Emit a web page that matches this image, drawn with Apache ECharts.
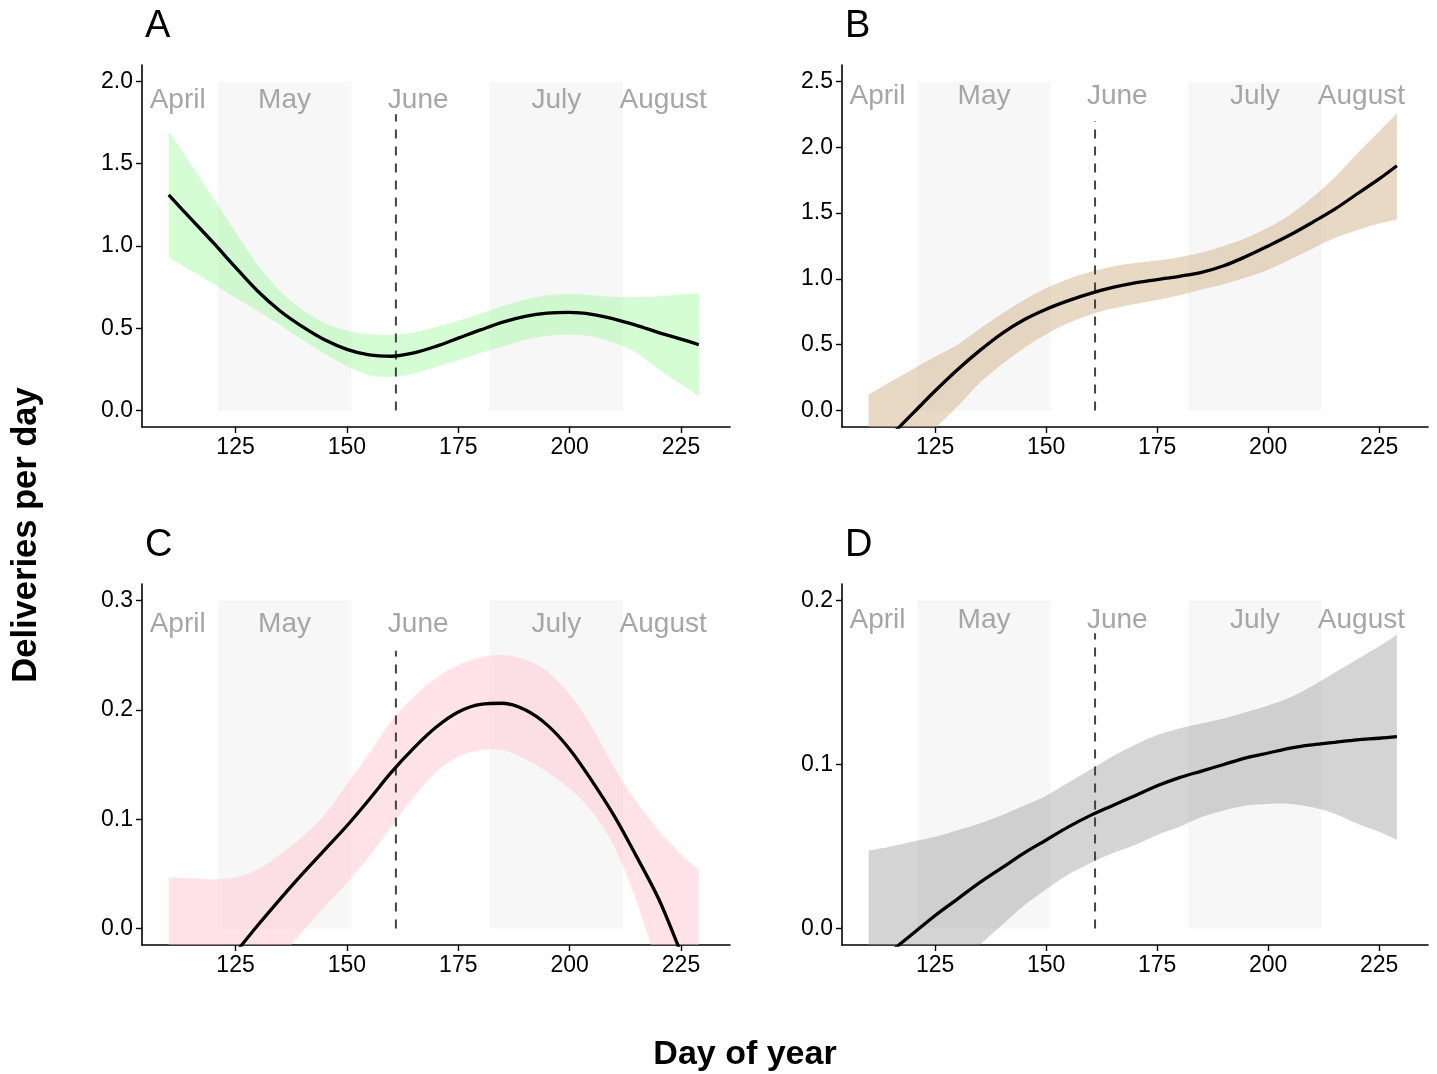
<!DOCTYPE html>
<html>
<head>
<meta charset="utf-8">
<script src="https://cdn.jsdelivr.net/npm/echarts@6/dist/echarts.min.js"></script>
<style>
html,body{margin:0;padding:0;background:#fff;}
#chart{width:1437px;height:1074px;}
</style>
</head>
<body>
<div id="chart"></div>
<script>
// ---- data ----
const days = [110,115,120,125,130,135,140,145,150,155,160,165,170,175,180,185,190,195,200,205,210,215,220,225,229];

const fitA = [1.31,1.165,1.02,0.87,0.725,0.605,0.51,0.43,0.372,0.338,0.33,0.35,0.39,0.44,0.49,0.537,0.572,0.592,0.597,0.585,0.556,0.518,0.474,0.434,0.40];
const upA  = [1.70,1.495,1.29,1.085,0.885,0.725,0.612,0.532,0.485,0.465,0.46,0.475,0.508,0.545,0.59,0.635,0.675,0.70,0.71,0.70,0.69,0.69,0.695,0.705,0.715];
const loA  = [0.93,0.85,0.77,0.685,0.605,0.52,0.43,0.345,0.27,0.215,0.205,0.225,0.265,0.305,0.35,0.39,0.43,0.455,0.462,0.45,0.41,0.35,0.25,0.16,0.087];

const fitB = [-0.36,-0.19,-0.02,0.15,0.31,0.455,0.585,0.69,0.77,0.835,0.89,0.935,0.97,0.995,1.02,1.05,1.10,1.17,1.25,1.335,1.43,1.53,1.645,1.76,1.86];
const upB  = [0.12,0.22,0.315,0.41,0.50,0.62,0.735,0.84,0.93,1.0,1.055,1.095,1.12,1.14,1.165,1.20,1.25,1.31,1.39,1.49,1.62,1.77,1.95,2.12,2.26];
const loB  = [-0.85,-0.6,-0.32,-0.135,0.03,0.21,0.35,0.476,0.58,0.665,0.73,0.775,0.81,0.84,0.875,0.92,0.96,1.01,1.07,1.15,1.23,1.31,1.37,1.42,1.45];

const fitC = [-0.097,-0.072,-0.047,-0.022,0.003,0.027,0.05,0.072,0.094,0.118,0.143,0.165,0.184,0.198,0.205,0.206,0.200,0.186,0.164,0.135,0.103,0.066,0.027,-0.022,-0.06];
const upC  = [0.047,0.046,0.045,0.047,0.054,0.068,0.084,0.104,0.132,0.16,0.19,0.212,0.229,0.241,0.248,0.25,0.246,0.235,0.214,0.184,0.147,0.116,0.09,0.068,0.054];
const loC  = [-0.25,-0.2,-0.15,-0.1,-0.06,-0.028,-0.003,0.02,0.042,0.066,0.093,0.12,0.143,0.157,0.163,0.163,0.155,0.143,0.128,0.107,0.075,0.025,-0.04,-0.12,-0.19];

const fitD = [-0.025,-0.014,-0.003,0.008,0.018,0.028,0.037,0.046,0.054,0.062,0.069,0.075,0.081,0.087,0.092,0.096,0.1,0.104,0.107,0.11,0.112,0.1135,0.115,0.116,0.117];
const upD  = [0.0475,0.050,0.053,0.056,0.06,0.064,0.069,0.075,0.081,0.089,0.097,0.105,0.112,0.118,0.122,0.125,0.128,0.132,0.136,0.141,0.148,0.156,0.164,0.172,0.179];
const loD  = [-0.09,-0.07,-0.052,-0.036,-0.022,-0.01,0.002,0.014,0.024,0.033,0.04,0.046,0.051,0.057,0.062,0.068,0.072,0.075,0.076,0.076,0.074,0.07,0.064,0.059,0.054];

const panelLetters = ['A','B','C','D'];
const yTicks = [[0,0.5,1.0,1.5,2.0],[0,0.5,1.0,1.5,2.0,2.5],[0,0.1,0.2,0.3],[0,0.1,0.2]];
const yLimits = [[0,2.0],[0,2.5],[0,0.3],[0,0.2]];
const xTicks = [125,150,175,200,225];
const xLimits = [110,230];
const shadeStart = [121,182];
const shadeEnd = [151,212];
const monthNames = ['April','May','June','July','August'];
const monthDays = [112,136,166,197,221];
const monthLabelY = [1.885,2.385,0.278,0.188];
const vlineDay = 161;
const vlineTop = [1.8,2.2,0.254,0.18];

const fits = [fitA,fitB,fitC,fitD];
const ups = [upA,upB,upC,upD];
const los = [loA,loB,loC,loD];
const ribbonColors = ['rgba(152,251,152,0.42)','rgba(210,180,140,0.5)','rgba(255,192,203,0.45)','rgba(153,153,153,0.42)'];

// ---- layout ----
const grids = [
  {left:142, top:65, width:588, height:362},
  {left:842, top:65, width:586, height:362},
  {left:142, top:584, width:588, height:361},
  {left:842, top:584, width:586, height:361}
];
const FONT = "'Liberation Sans', Arial, sans-serif";

// Catmull-Rom spline path through pixel points (rendering helper only)
function splineSeg(pts, startCmd){
  let d = startCmd + pts[0][0].toFixed(2)+' '+pts[0][1].toFixed(2);
  const t = 1/6;
  for (let i=0;i<pts.length-1;i++){
    const p0 = pts[Math.max(i-1,0)], p1 = pts[i], p2 = pts[i+1], p3 = pts[Math.min(i+2,pts.length-1)];
    const c1 = [p1[0]+(p2[0]-p0[0])*t, p1[1]+(p2[1]-p0[1])*t];
    const c2 = [p2[0]-(p3[0]-p1[0])*t, p2[1]-(p3[1]-p1[1])*t];
    d += ' C'+c1[0].toFixed(2)+' '+c1[1].toFixed(2)+' '+c2[0].toFixed(2)+' '+c2[1].toFixed(2)+' '+p2[0].toFixed(2)+' '+p2[1].toFixed(2);
  }
  return d;
}

const xSpan = xLimits[1]-xLimits[0];
const xAxes = [], yAxes = [], series = [], titles = [];
for (let p=0;p<4;p++){
  const ylo = yLimits[p][0], yhi = yLimits[p][1], ys = yhi-ylo;
  xAxes.push({
    gridIndex:p, type:'value',
    min: xLimits[0]-0.05*xSpan, max: xLimits[1]+0.05*xSpan,
    splitLine:{show:false},
    axisLine:{show:true, onZero:false, lineStyle:{color:'#000', width:1.6}},
    axisTick:{show:true, length:6, customValues:xTicks, lineStyle:{color:'#000', width:1.4}},
    axisLabel:{show:true, customValues:xTicks, margin:9, color:'#000', fontSize:23, fontFamily:FONT}
  });
  yAxes.push({
    gridIndex:p, type:'value',
    min: ylo-0.05*ys, max: yhi+0.05*ys,
    splitLine:{show:false},
    axisLine:{show:true, onZero:false, lineStyle:{color:'#000', width:1.6}},
    axisTick:{show:true, length:6, customValues:yTicks[p], lineStyle:{color:'#000', width:1.4}},
    axisLabel:{show:true, customValues:yTicks[p], margin:9, color:'#000', fontSize:23, fontFamily:FONT,
      formatter:(v)=>Number(v).toFixed(1)}
  });
  // shaded month bands
  series.push({
    type:'custom', xAxisIndex:p, yAxisIndex:p, z:1, clip:true, silent:true,
    data: shadeStart.map((s,i)=>[s, shadeEnd[i]]),
    renderItem:(params, api)=>{
      const a = api.coord([api.value(0), yhi]);
      const b = api.coord([api.value(1), 0]);
      return {type:'rect', shape:{x:a[0], y:a[1], width:b[0]-a[0], height:b[1]-a[1]}, style:{fill:'#f7f7f7'}};
    }
  });
  // month labels
  series.push({
    type:'custom', xAxisIndex:p, yAxisIndex:p, z:2, silent:true,
    data: monthDays.map((d,i)=>[d, monthLabelY[p], i]),
    renderItem:(params, api)=>{
      const c = api.coord([api.value(0), api.value(1)]);
      return {type:'text', x:c[0], y:c[1], style:{text:monthNames[api.value(2)], fill:'#a6a6a6',
        font:'28px '+FONT, textAlign:'center', textVerticalAlign:'middle'}};
    }
  });
  // confidence ribbon
  const up = ups[p], lo = los[p];
  series.push({
    type:'custom', xAxisIndex:p, yAxisIndex:p, z:3, clip:true, silent:true,
    data:[[0]],
    renderItem:(params, api)=>{
      const top = days.map((d,i)=>api.coord([d, up[i]]));
      const bot = days.map((d,i)=>api.coord([d, lo[i]])).reverse();
      let path = splineSeg(top,'M');
      path += ' ' + splineSeg(bot,'L') + ' Z';
      const cs = params.coordSys;
      return {type:'group',
        clipPath:{type:'rect', shape:{x:cs.x, y:cs.y, width:cs.width, height:cs.height}},
        children:[{type:'path', shape:{pathData:path}, style:{fill:ribbonColors[p], stroke:null}}]};
    }
  });
  // dashed vertical line
  series.push({
    type:'line', xAxisIndex:p, yAxisIndex:p, z:4, showSymbol:false, symbol:'none', silent:true,
    lineStyle:{color:'#444', width:2, type:[9,8]},
    data:[[vlineDay,0],[vlineDay,vlineTop[p]]]
  });
  // fitted line
  series.push({
    type:'line', xAxisIndex:p, yAxisIndex:p, z:5, smooth:0.35, showSymbol:false, symbol:'none', silent:true,
    lineStyle:{color:'#000', width:3.3},
    data: days.map((d,i)=>[d, fits[p][i]])
  });
  titles.push({text:panelLetters[p], left:grids[p].left-2, top:grids[p].top-62,
    textStyle:{fontSize:38, fontWeight:'normal', color:'#000', fontFamily:FONT}});
}

const chart = echarts.init(document.getElementById('chart'), null, {renderer:'canvas'});
chart.setOption({
  animation:false,
  backgroundColor:'#fff',
  title:titles,
  grid:grids,
  xAxis:xAxes,
  yAxis:yAxes,
  series:series,
  graphic:[
    {type:'text', x:26, y:535, rotation:Math.PI/2,
      style:{text:'Deliveries per day', font:'bold 34.5px '+FONT, fill:'#000', textAlign:'center', textVerticalAlign:'middle'}},
    {type:'text', x:745, y:1055,
      style:{text:'Day of year', font:'bold 34px '+FONT, fill:'#000', textAlign:'center', textVerticalAlign:'middle'}}
  ]
});
</script>
</body>
</html>
